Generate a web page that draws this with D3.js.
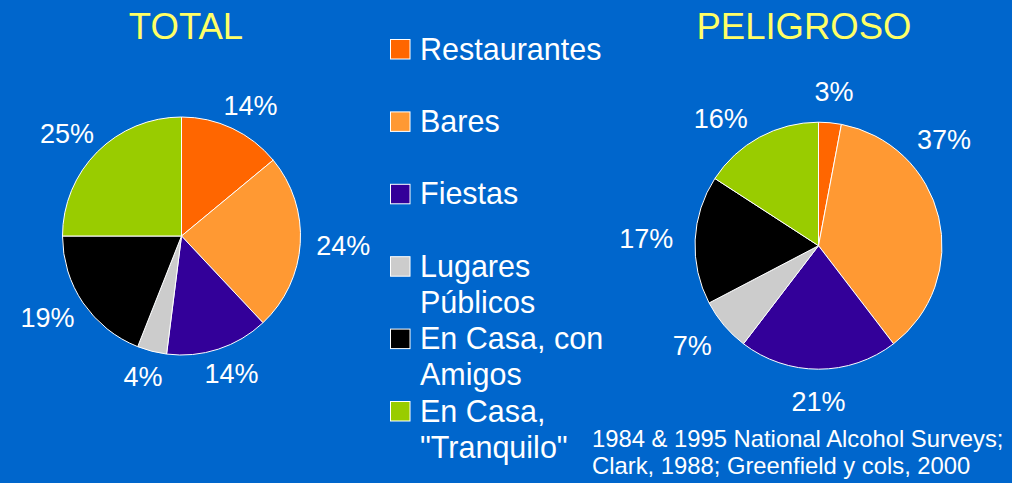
<!DOCTYPE html>
<html>
<head>
<meta charset="utf-8">
<script src="https://cdn.jsdelivr.net/npm/d3@7"></script>
<style>
  html, body { margin: 0; padding: 0; background: #0066cc; }
  svg { display: block; font-family: "Liberation Sans", Arial, sans-serif; }
</style>
</head>
<body>
<script>
// data
const categories = ['Restaurantes', 'Bares', 'Fiestas', 'Lugares\nPúblicos', 'En Casa, con\nAmigos', 'En Casa,\n"Tranquilo"'];
const colors = ['#ff6600', '#ff9933', '#330099', '#cccccc', '#000000', '#99cc00'];
const totalValues = [14, 24, 14, 4, 19, 25];
const peligrosoValues = [3, 37, 21, 7, 17, 16];
const titles = ['TOTAL', 'PELIGROSO'];
const sourceLines = ['1984 & 1995 National Alcohol Surveys;', 'Clark, 1988; Greenfield y cols, 2000'];

const width = 1012;
const height = 483;

const svg = d3.select('body')
  .append('svg')
  .attr('width', width)
  .attr('height', height);

svg.append('rect')
  .attr('width', width)
  .attr('height', height)
  .attr('fill', '#0066cc');

// one pie per block; labelTurn nudges a few labels round the rim (degrees), like the slide does
const pies = [
  { title: titles[0], values: totalValues, cx: 181.5, cy: 236, r: 119, titleX: 186, gap: 16, labelTurn: [0, 0, 0, 0, 0, 0] },
  { title: titles[1], values: peligrosoValues, cx: 818.5, cy: 245.7, r: 123.5, titleX: 804, gap: 22, labelTurn: [0, -30, 0, 0, 0, -6] }
];

const pie = d3.pie().sort(null).value((d) => d);
const labelSize = 27;

pies.forEach((p) => {
  svg.append('text')
    .attr('x', p.titleX)
    .attr('y', 38.5)
    .attr('text-anchor', 'middle')
    .attr('fill', '#ffff66')
    .style('font-size', '36.5px')
    .text(p.title);

  const arc = d3.arc().innerRadius(0).outerRadius(p.r);
  const g = svg.append('g').attr('transform', `translate(${p.cx}, ${p.cy})`);
  const arcs = pie(p.values);

  g.selectAll('path')
    .data(arcs)
    .join('path')
    .attr('d', arc)
    .attr('fill', (d, i) => colors[i])
    .attr('stroke', '#ffffff')
    .attr('stroke-width', 1);

  // percent labels pushed just outside the rim
  const R = p.r + p.gap;
  g.selectAll('text.pct')
    .data(arcs)
    .join('text')
    .attr('class', 'pct')
    .attr('text-anchor', 'middle')
    .attr('fill', '#ffffff')
    .style('font-size', labelSize + 'px')
    .text((d) => d.data + '%')
    .each(function (d, i) {
      const a = (d.startAngle + d.endAngle) / 2 + p.labelTurn[i] * Math.PI / 180;
      const ux = Math.sin(a);
      const uy = -Math.cos(a);
      const w = this.getComputedTextLength();
      const h = labelSize * 0.716;
      const x = R * ux + (w / 2) * ux;
      const y = R * uy + (h / 2) * uy + h / 2;
      d3.select(this).attr('x', x).attr('y', y);
    });
});

// legend
const legendY = d3.scalePoint()
  .domain(d3.range(categories.length))
  .range([39, 401]);

const legend = svg.append('g');
categories.forEach((c, i) => {
  const y0 = legendY(i);
  legend.append('rect')
    .attr('x', 390.5)
    .attr('y', y0 + 0.5)
    .attr('width', 19.5)
    .attr('height', 19.5)
    .attr('fill', colors[i])
    .attr('stroke', '#ffffff')
    .attr('stroke-width', 1);

  const t = legend.append('text')
    .attr('fill', '#ffffff')
    .style('font-size', '30.5px');
  c.split('\n').forEach((line, k) => {
    t.append('tspan')
      .attr('x', 420)
      .attr('y', y0 + 20.5 + k * 36)
      .text(line);
  });
});

// source note
const note = svg.append('text')
  .attr('fill', '#ffffff')
  .style('font-size', '23.8px');
sourceLines.forEach((line, k) => {
  note.append('tspan')
    .attr('x', 592)
    .attr('y', 446.5 + k * 27.7)
    .text(line);
});
</script>
</body>
</html>
